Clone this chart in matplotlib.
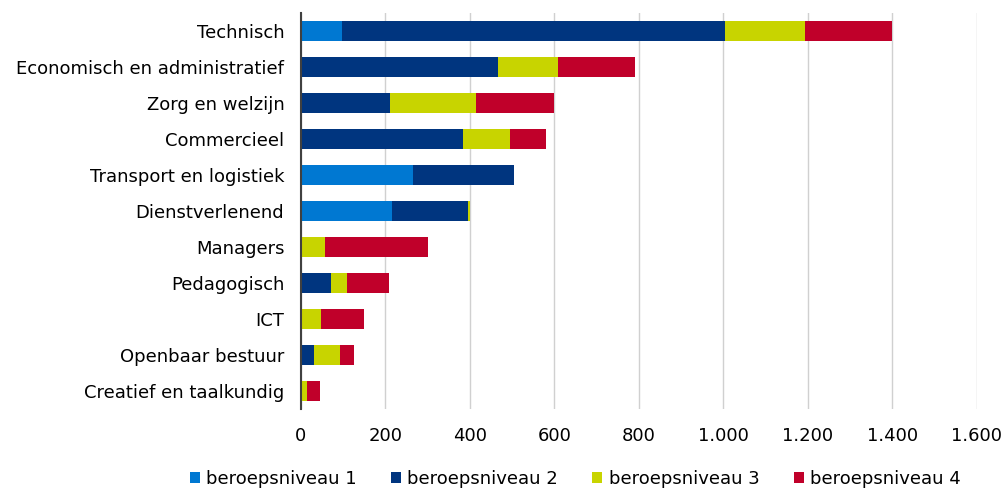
import matplotlib
matplotlib.use('Agg')
from matplotlib import pyplot as plt
import numpy as np

categories = ['Technisch', 'Economisch en administratief', 'Zorg en welzijn',
              'Commercieel', 'Transport en logistiek', 'Dienstverlenend',
              'Managers', 'Pedagogisch', 'ICT', 'Openbaar bestuur',
              'Creatief en taalkundig']
niveau1 = [97, 0, 0, 0, 265, 215, 0, 0, 0, 0, 0]
niveau2 = [906, 466, 211, 383, 239, 180, 0, 71, 0, 31, 0]
niveau3 = [190, 142, 203, 112, 0, 5, 57, 38, 47, 61, 14]
niveau4 = [206, 182, 185, 85, 0, 0, 243, 99, 102, 33, 31]
series_names = ['beroepsniveau 1', 'beroepsniveau 2', 'beroepsniveau 3', 'beroepsniveau 4']
colors = ['#0078D2', '#00357F', '#C8D400', '#C0002A']

plt.rcParams['font.family'] = ['DejaVu Sans']

fig = plt.figure(figsize=(10.04, 4.92), dpi=100)
ax = fig.add_axes([0.2998, 0.1687, 0.6733, 0.8049])

y = np.arange(len(categories))
left = np.zeros(len(categories))
for vals, name, col in zip([niveau1, niveau2, niveau3, niveau4], series_names, colors):
    ax.barh(y, vals, left=left, height=0.55, color=col, label=name, zorder=3)
    left += np.array(vals)

ax.set_ylim(len(categories) - 0.5, -0.5)
ax.set_xlim(0, 1600)
ax.set_xticks(range(0, 1601, 200))
ax.set_xticklabels(['0', '200', '400', '600', '800', '1.000', '1.200', '1.400', '1.600'])
ax.set_yticks(y)
ax.set_yticklabels(categories)
ax.tick_params(axis='both', length=0, labelsize=13, colors='#000000')
ax.tick_params(axis='x', pad=13)
ax.tick_params(axis='y', pad=12)
ax.grid(axis='x', color='#D0D0D0', linewidth=1, zorder=0)
for s in ['top', 'right', 'bottom']:
    ax.spines[s].set_visible(False)
ax.spines['left'].set_color('#404040')
ax.spines['left'].set_linewidth(1.5)
ax.spines['left'].set_zorder(4)

fig.legend(loc='center', bbox_to_anchor=(0.573, 0.026), ncol=4, frameon=False,
           fontsize=13, handlelength=0.55, handleheight=0.55, handletextpad=0.35,
           columnspacing=1.9, borderpad=0.1)

fig.savefig('out.png', dpi=100)
